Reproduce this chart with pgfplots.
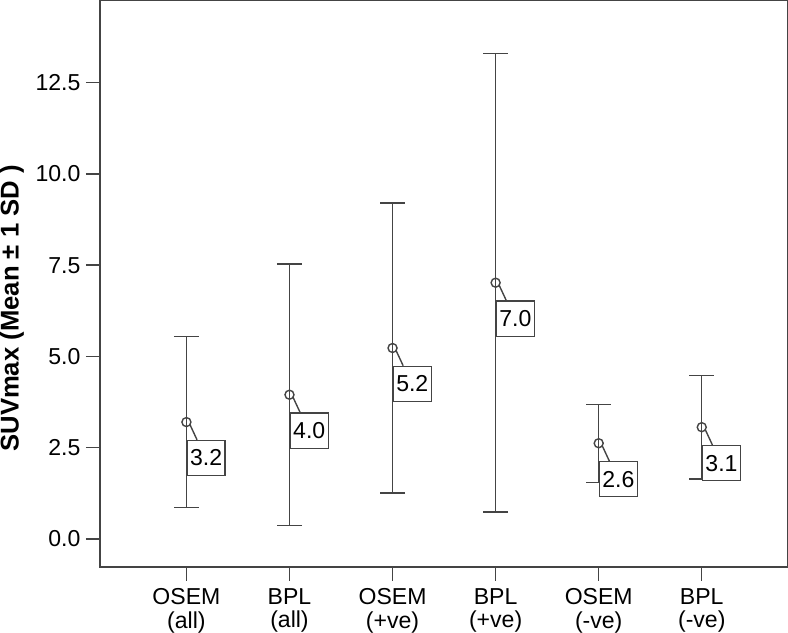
\documentclass[border=0pt]{standalone}
\usepackage{fontspec}
\setmainfont{Liberation Sans}
\usepackage{pgfplots}
\pgfplotsset{compat=1.18}
\usepackage{pgfplotstable}
\pgfplotstableread{
x y e lab
1 3.20 2.34 3.2
2 3.95 3.58 4.0
3 5.23 3.97 5.2
4 7.02 6.29 7.0
5 2.62 1.07 2.6
6 3.06 1.42 3.1
}\datatable
\definecolor{ln}{HTML}{444444}
\begin{document}
\begin{tikzpicture}
\begin{axis}[
  scale only axis, width=343pt, height=282.5pt,
  xmin=0.16, xmax=6.83, ymin=-0.77, ymax=14.75,
  axis line style={draw=ln, line width=0.7pt},
  tick style={draw=ln, line width=0.7pt},
  tick align=outside, xtick pos=bottom, ytick pos=left,
  major tick length=7pt,
  xtick={1,2,3,4,5,6},
  xticklabels={OSEM\\(all), BPL\\(all), OSEM\\(+ve), BPL\\(+ve), OSEM\\(-ve), BPL\\(-ve)},
  xticklabel style={align=center, font=\fontsize{11.5}{11.8}\selectfont, inner sep=0pt, yshift=-3.5pt},
  ytick={0,2.5,5,7.5,10,12.5},
  yticklabel style={font=\fontsize{11.5}{13}\selectfont, inner sep=0pt, xshift=-2.5pt,
    /pgf/number format/.cd, fixed, fixed zerofill, precision=1},
  /pgf/number format/assume math mode=true,
  ylabel={\bfseries SUVmax (Mean ± 1 SD )},
  ylabel style={font=\fontsize{12.8}{14}\selectfont, inner sep=0pt,
    at={(axis description cs:-0.1458,0.4566)}, anchor=north},
  clip=false,
]
\addplot[
  draw=ln, line width=0.7pt, only marks,
  mark=o, mark size=2.25pt, mark options={draw=ln, line width=0.7pt},
  error bars/.cd, y dir=both, y explicit,
  error bar style={draw=ln, line width=0.7pt},
  error mark options={draw=ln, mark size=6.25pt, line width=0.7pt, rotate=90},
] table[x=x, y=y, y error=e] {\datatable};
\addplot[
  draw=none, only marks, mark=none,
  nodes near coords, point meta=explicit symbolic,
  every node near coord/.style={
    anchor=north west, yshift=-8.85pt,
    draw=ln, fill=white, line width=0.7pt, inner sep=0pt,
    minimum width=19pt, minimum height=17.5pt,
    font=\fontsize{11.5}{13}\selectfont, text=black,
    append after command={([xshift=5.3pt]\tikzlastnode.north west) edge[draw=ln, line width=0.7pt] ([xshift=1.65pt,yshift=7.85pt]\tikzlastnode.north west)}
  },
] table[x=x, y=y, meta=lab] {\datatable};
\end{axis}
\end{tikzpicture}
\end{document}
